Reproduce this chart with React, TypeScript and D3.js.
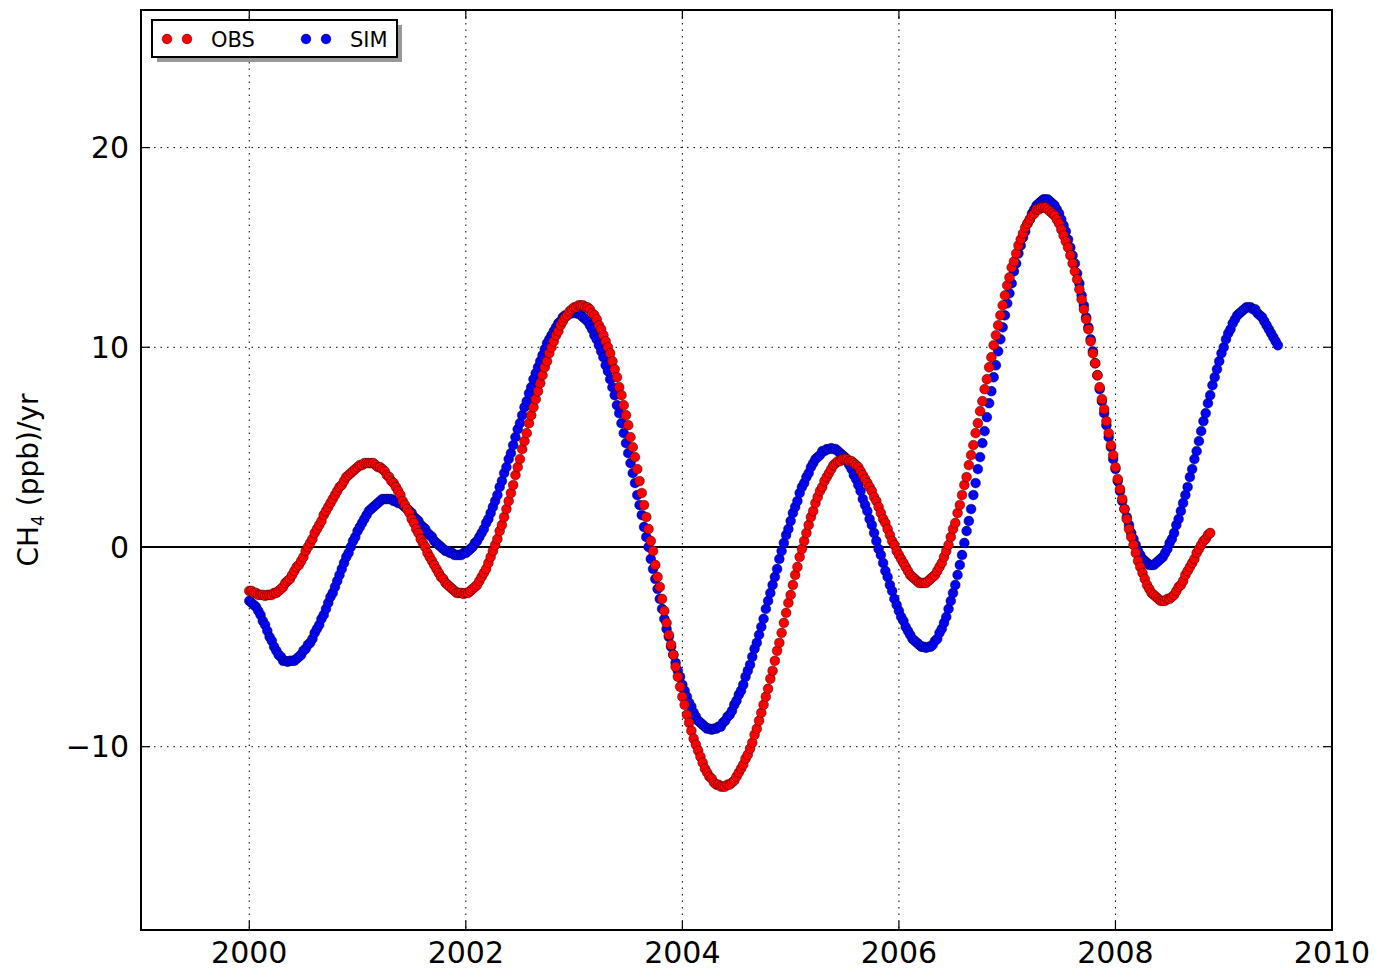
import React from 'react';
import * as d3 from 'd3';

// Weekly-ish sampling: value i is at year start + i / stepsPerYear
const obsStartYear = 2000;
const simStartYear = 2000;
const stepsPerYear = 48;

const obsValues = [
  -2.2,-2.2,-2.3,-2.3,-2.4,-2.4,-2.4,-2.45,
  -2.4,-2.4,-2.4,-2.3,-2.3,-2.2,-2.1,-2.0,-1.8,-1.7,-1.6,-1.4,-1.2,-1.0,-0.9,-0.7,-0.5,-0.2,0.0,0.2,0.4,0.7,0.9,1.1,1.3,1.6,1.8,2.0,2.2,2.4,2.6,2.8,3.0,3.1,3.3,3.5,3.6,3.7,3.8,3.9,4.0,4.1,4.1,4.2,4.2,4.2,
  4.2,4.2,4.1,4.0,4.0,3.9,3.8,3.6,3.5,3.3,3.2,3.0,2.8,2.6,2.3,2.1,1.9,1.7,1.4,1.2,0.9,0.7,0.4,0.2,0.0,-0.3,-0.5,-0.7,-0.9,-1.1,-1.3,-1.5,-1.6,-1.8,-1.9,-2.0,-2.1,-2.2,-2.3,-2.3,-2.3,-2.35,
  -2.3,-2.3,-2.2,-2.1,-2.0,-1.9,-1.7,-1.5,-1.3,-1.1,-0.8,-0.5,-0.2,0.1,0.4,0.8,1.1,1.5,1.9,2.3,2.7,3.1,3.6,4.0,4.4,4.9,5.3,5.7,6.2,6.6,7.0,7.4,7.8,8.2,8.6,9.0,9.3,9.7,10.0,10.3,10.6,10.8,11.1,11.3,11.5,11.6,11.8,11.9,12.0,12.0,12.1,12.1,
  12.1,12.0,12.0,11.9,11.7,11.6,11.4,11.1,10.9,10.6,10.3,10.0,9.7,9.3,8.9,8.5,8.0,7.6,7.1,6.6,6.1,5.5,5.0,4.5,3.9,3.3,2.7,2.1,1.5,0.9,0.3,-0.2,-0.9,-1.5,-2.0,-2.6,-3.2,-3.8,-4.4,-4.9,-5.4,-6.0,-6.5,-7.0,-7.5,-7.9,-8.4,-8.8,-9.2,-9.6,-9.9,-10.2,-10.5,-10.8,-11.1,-11.3,-11.5,-11.6,-11.8,-11.9,-11.9,-12.0,-12.0,
  -12.0,-11.9,-11.9,-11.8,-11.7,-11.5,-11.3,-11.1,-10.9,-10.6,-10.4,-10.1,-9.8,-9.4,-9.1,-8.7,-8.3,-7.9,-7.5,-7.1,-6.6,-6.2,-5.7,-5.2,-4.8,-4.3,-3.8,-3.3,-2.8,-2.4,-1.9,-1.4,-1.0,-0.5,-0.1,0.3,0.7,1.1,1.5,1.8,2.2,2.5,2.8,3.0,3.3,3.5,3.7,3.9,4.1,4.2,4.3,4.3,4.4,4.4,
  4.4,4.3,4.3,4.2,4.1,4.0,3.8,3.6,3.4,3.2,3.0,2.8,2.5,2.3,2.0,1.7,1.4,1.2,0.9,0.6,0.3,0.1,-0.2,-0.4,-0.6,-0.8,-1.0,-1.2,-1.4,-1.5,-1.6,-1.7,-1.8,-1.8,-1.8,
  -1.8,-1.7,-1.6,-1.5,-1.4,-1.2,-1.0,-0.8,-0.5,-0.2,0.1,0.5,0.9,1.2,1.7,2.1,2.6,3.1,3.5,4.1,4.6,5.1,5.7,6.2,6.8,7.3,7.9,8.4,9.0,9.5,10.1,10.6,11.1,11.6,12.1,12.6,13.1,13.5,14.0,14.3,14.7,15.1,15.4,15.7,16.0,16.2,16.4,16.6,16.7,16.9,16.9,17.0,17.0,
  17.0,16.9,16.8,16.7,16.6,16.4,16.2,15.9,15.6,15.3,15.0,14.6,14.2,13.8,13.4,12.9,12.4,11.9,11.4,10.9,10.3,9.7,9.2,8.6,8.0,7.4,6.9,6.3,5.7,5.1,4.6,4.0,3.4,2.9,2.4,1.9,1.4,0.9,0.5,0.1,-0.3,-0.7,-1.0,-1.3,-1.6,-1.9,-2.1,-2.3,-2.4,-2.5,-2.6,-2.7,-2.7,
  -2.7,-2.6,-2.6,-2.5,-2.4,-2.2,-2.0,-1.9,-1.7,-1.4,-1.2,-1.0,-0.8,-0.6,-0.3,-0.1,0.1,0.3,0.4,0.6,0.7,
];

const simValues = [
  -2.7,-2.8,-2.9,-3.0,-3.2,-3.4,-3.7,-3.9,-4.2,-4.5,-4.7,-5.0,-5.2,-5.4,-5.5,-5.7,-5.7,-5.75,
  -5.7,-5.7,-5.7,-5.6,-5.5,-5.4,-5.2,-5.1,-4.9,-4.8,-4.6,-4.3,-4.1,-3.9,-3.6,-3.4,-3.1,-2.8,-2.5,-2.3,-2.0,-1.7,-1.4,-1.1,-0.8,-0.5,-0.3,0.0,0.3,0.5,0.8,1.0,1.2,1.4,1.6,1.8,1.9,2.0,2.1,2.2,2.3,2.4,2.4,2.4,
  2.4,2.4,2.3,2.3,2.2,2.2,2.1,2.0,1.9,1.8,1.7,1.5,1.4,1.3,1.1,1.0,0.9,0.7,0.6,0.5,0.3,0.2,0.1,0.0,-0.1,-0.2,-0.2,-0.3,-0.3,-0.4,-0.4,-0.4,
  -0.4,-0.3,-0.3,-0.2,-0.1,0.0,0.2,0.3,0.5,0.7,0.9,1.2,1.4,1.7,2.0,2.3,2.6,3.0,3.3,3.7,4.0,4.4,4.7,5.1,5.5,5.9,6.2,6.6,7.0,7.3,7.7,8.0,8.4,8.7,9.0,9.3,9.6,9.9,10.2,10.4,10.6,10.8,11.0,11.2,11.3,11.5,11.6,11.6,11.7,11.7,11.75,
  11.7,11.7,11.6,11.5,11.4,11.3,11.1,10.9,10.6,10.4,10.1,9.8,9.5,9.1,8.8,8.4,8.0,7.6,7.1,6.7,6.2,5.7,5.2,4.7,4.2,3.7,3.2,2.6,2.1,1.6,1.0,0.5,0.0,-0.6,-1.1,-1.6,-2.1,-2.6,-3.1,-3.6,-4.1,-4.5,-5.0,-5.4,-5.8,-6.2,-6.5,-6.9,-7.2,-7.5,-7.8,-8.0,-8.3,-8.5,-8.7,-8.8,-8.9,-9.0,-9.1,-9.1,-9.15,
  -9.1,-9.1,-9.0,-9.0,-8.8,-8.7,-8.5,-8.4,-8.2,-7.9,-7.7,-7.4,-7.2,-6.9,-6.5,-6.2,-5.9,-5.5,-5.1,-4.8,-4.4,-4.0,-3.6,-3.1,-2.7,-2.3,-1.9,-1.5,-1.1,-0.6,-0.2,0.2,0.6,0.9,1.3,1.7,2.0,2.3,2.7,3.0,3.2,3.5,3.7,4.0,4.2,4.4,4.5,4.6,4.8,4.8,4.9,4.9,4.95,
  4.9,4.9,4.8,4.7,4.6,4.5,4.3,4.1,3.9,3.6,3.4,3.1,2.8,2.4,2.1,1.8,1.4,1.1,0.7,0.3,-0.1,-0.4,-0.8,-1.2,-1.5,-1.9,-2.2,-2.6,-2.9,-3.2,-3.5,-3.7,-4.0,-4.2,-4.4,-4.6,-4.7,-4.8,-4.9,-5.0,-5.0,-5.05,
  -5.0,-5.0,-4.9,-4.7,-4.6,-4.3,-4.1,-3.8,-3.5,-3.1,-2.7,-2.3,-1.9,-1.4,-0.9,-0.4,0.2,0.8,1.3,1.9,2.6,3.2,3.9,4.5,5.2,5.8,6.5,7.2,7.8,8.5,9.1,9.8,10.4,11.0,11.6,12.2,12.7,13.2,13.8,14.2,14.7,15.1,15.5,15.8,16.2,16.4,16.7,16.9,17.1,17.2,17.3,17.4,17.4,
  17.4,17.3,17.2,17.1,16.9,16.7,16.4,16.1,15.8,15.4,15.0,14.6,14.2,13.7,13.2,12.6,12.1,11.5,11.0,10.4,9.8,9.2,8.6,7.9,7.3,6.7,6.1,5.5,5.0,4.4,3.9,3.3,2.8,2.3,1.9,1.5,1.1,0.7,0.4,0.1,-0.2,-0.4,-0.6,-0.7,-0.8,-0.9,-0.9,
  -0.9,-0.8,-0.7,-0.6,-0.5,-0.3,-0.1,0.2,0.4,0.7,1.1,1.4,1.8,2.2,2.6,3.0,3.5,3.9,4.4,4.8,5.3,5.8,6.3,6.7,7.2,7.6,8.1,8.5,8.9,9.3,9.7,10.0,10.4,10.7,10.9,11.2,11.4,11.6,11.7,11.8,11.9,12.0,12.0,
  12.0,11.9,11.9,11.7,11.6,11.5,11.3,11.1,10.9,10.7,10.5,10.3,10.1,
];

const xDomain = [1999, 2010];
const yDomain = [-19.18, 26.89];
const xTicks = [2000, 2002, 2004, 2006, 2008, 2010];
const yTicks = [-10, 0, 10, 20];

const seriesInfo = [
  { key: 'SIM', color: '#0000ff', start: simStartYear, values: simValues },
  { key: 'OBS', color: '#ff0000', start: obsStartYear, values: obsValues },
];
const legendOrder = ['OBS', 'SIM'];

const FONT = "'DejaVu Sans', 'Liberation Sans', sans-serif";

export default function App() {
  const W = 1375, H = 971;
  const left = 141, right = 1332, top = 10, bottom = 930;
  const x = d3.scaleLinear().domain(xDomain).range([left, right]);
  const y = d3.scaleLinear().domain(yDomain).range([bottom, top]);
  const tickLen = 9;
  const r = 4.9;

  const seriesPts = seriesInfo.map((s) => ({
    ...s,
    pts: s.values.map((v, i) => ({ t: s.start + i / stepsPerYear, v })),
  }));

  const legendX = 152, legendY = 20, legendW = 245, legendH = 37;
  const legendEntries = legendOrder.map((k) => seriesInfo.find((s) => s.key === k)!);

  return (
    <svg width={W} height={H} style={{ position: 'absolute', left: 0, top: 0, background: '#fff' }} fontFamily={FONT}>
      <rect x={0} y={0} width={W} height={H} fill="#fff" />
      {/* grid */}
      {xTicks.filter((t) => t > xDomain[0] && t < xDomain[1]).map((t) => (
        <line key={'gx' + t} x1={x(t)} x2={x(t)} y1={top} y2={bottom} stroke="#000" strokeWidth={1} strokeDasharray="1.5,5" />
      ))}
      {yTicks.filter((t) => t !== 0).map((t) => (
        <line key={'gy' + t} x1={left} x2={right} y1={y(t)} y2={y(t)} stroke="#000" strokeWidth={1} strokeDasharray="1.5,5" />
      ))}
      {/* zero line */}
      <line x1={left} x2={right} y1={y(0)} y2={y(0)} stroke="#000" strokeWidth={2} />
      {/* series */}
      {seriesPts.map((s) => (
        <g key={s.key}>
          {s.pts.map((p, i) => (
            <circle key={i} cx={x(p.t)} cy={y(p.v)} r={r} fill={s.color} stroke="#000" strokeWidth={0.6} strokeOpacity={0.7} />
          ))}
        </g>
      ))}
      {/* frame */}
      <rect x={left} y={top} width={right - left} height={bottom - top} fill="none" stroke="#000" strokeWidth={2} />
      {/* ticks */}
      {xTicks.map((t) => (
        <g key={'tx' + t}>
          <line x1={x(t)} x2={x(t)} y1={bottom} y2={bottom - tickLen} stroke="#000" strokeWidth={1.2} />
          <line x1={x(t)} x2={x(t)} y1={top} y2={top + tickLen} stroke="#000" strokeWidth={1.2} />
          <text x={x(t)} y={bottom + 33} textAnchor="middle" fontSize={30} fill="#000">{t}</text>
        </g>
      ))}
      {yTicks.map((t) => (
        <g key={'ty' + t}>
          <line x1={left} x2={left + tickLen} y1={y(t)} y2={y(t)} stroke="#000" strokeWidth={1.2} />
          <line x1={right} x2={right - tickLen} y1={y(t)} y2={y(t)} stroke="#000" strokeWidth={1.2} />
          <text x={left - 12} y={y(t)} dy="0.36em" textAnchor="end" fontSize={30} fill="#000">{t < 0 ? '\u2212' + Math.abs(t) : t}</text>
        </g>
      ))}
      {/* y label */}
      <text transform={`translate(38, ${(top + bottom) / 2 + 10}) rotate(-90)`} textAnchor="middle" fontSize={28} fill="#000">
        CH<tspan fontSize={17} dy={6}>4</tspan><tspan dy={-6}> (ppb)/yr</tspan>
      </text>
      {/* legend */}
      <rect x={legendX + 5} y={legendY + 5} width={legendW} height={legendH} fill="#999" />
      <rect x={legendX} y={legendY} width={legendW} height={legendH} fill="#fff" stroke="#000" strokeWidth={2} />
      {legendEntries.map((s, i) => {
        const bx = legendX + 15 + i * 139;
        const cy = legendY + 19;
        return (
          <g key={'lg' + s.key}>
            <circle cx={bx} cy={cy} r={r} fill={s.color} stroke="#000" strokeWidth={0.6} strokeOpacity={0.7} />
            <circle cx={bx + 20} cy={cy} r={r} fill={s.color} stroke="#000" strokeWidth={0.6} strokeOpacity={0.7} />
            <text x={bx + 44} y={cy + 8} fontSize={21} fill="#000">{s.key}</text>
          </g>
        );
      })}
    </svg>
  );
}
